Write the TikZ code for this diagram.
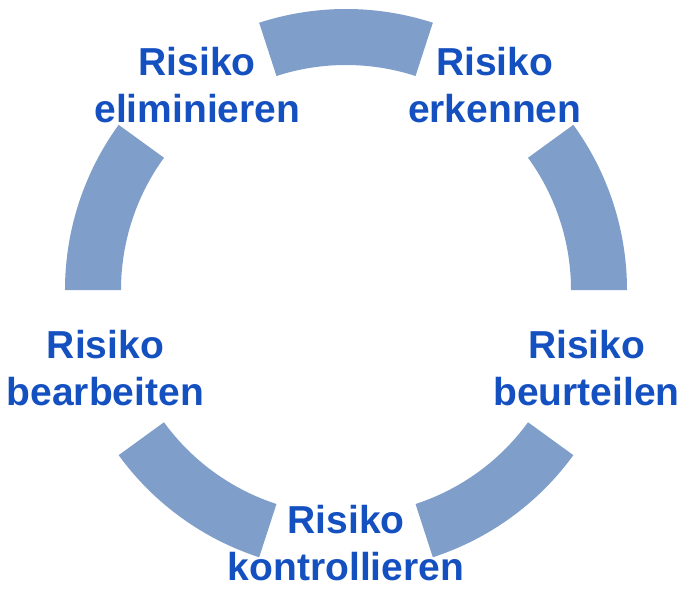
\documentclass[tikz,border=0pt]{standalone}
\usepackage{fontspec}
\setmainfont{Liberation Sans}
\usepackage{tikz}
\usetikzlibrary{positioning}
\definecolor{cring}{HTML}{7F9FCA}
\definecolor{ctext}{HTML}{1550C0}
\tikzset{
  seg/.style={fill=cring, draw=none},
  ntext/.style={align=center, inner sep=0pt, text=ctext,
                font=\fontsize{39pt}{47pt}\selectfont\bfseries},
}

\begin{document}
\begin{tikzpicture}
  \useasboundingbox (-346pt,-307pt) rectangle (354pt,290pt);
  % ring of five segments
  \foreach \a in {90,18,-54,-126,162} {
    \fill[seg] (\a-18:281pt) arc[start angle=\a-18, end angle=\a+18, radius=281pt]
      -- (\a+18:225pt) arc[start angle=\a+18, end angle=\a-18, radius=225pt] -- cycle;
  }
  \node[ntext] (erkennen) at (54:253pt) {Risiko\\erkennen};
  \node[ntext] (beurteilen) at (-18:253pt) {Risiko\\beurteilen};
  \node[ntext] (kontrollieren) at (-90:253pt) {Risiko\\kontrollieren};
  \node[ntext] (bearbeiten) at (198:253pt) {Risiko\\bearbeiten};
  \node[ntext] (eliminieren) at (126:253pt) {Risiko\\eliminieren};
\end{tikzpicture}
\end{document}
